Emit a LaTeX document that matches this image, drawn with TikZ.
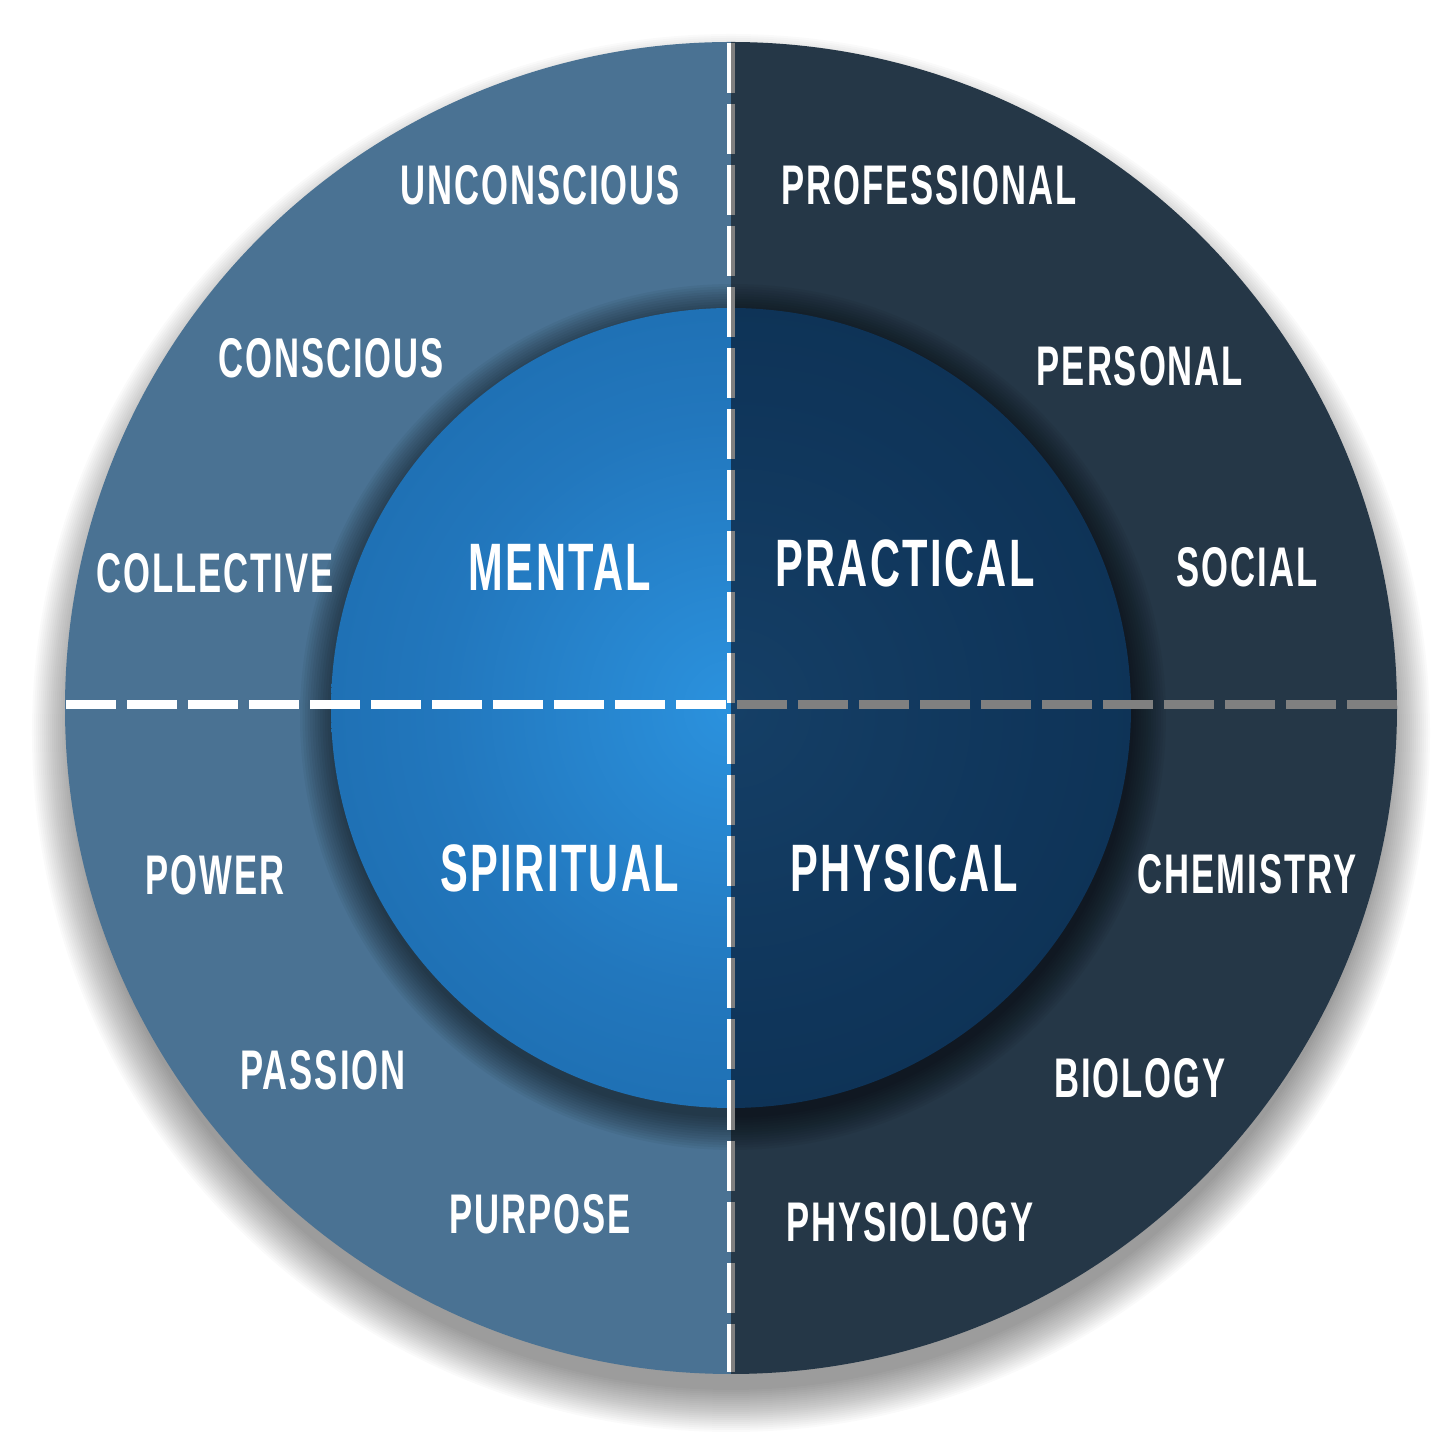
\documentclass[tikz,border=0pt]{standalone}
\usepackage{fontspec}
\newfontfamily\ringfont{Liberation Sans}[FakeStretch=0.62,LetterSpace=3.5]
\definecolor{mentalring}{HTML}{4A7293}
\definecolor{practicalring}{HTML}{253747}
\definecolor{mentalhi}{HTML}{2B92DE}
\definecolor{mentalmid}{HTML}{2277BD}
\definecolor{mentallo}{HTML}{155B96}
\definecolor{practicalhi}{HTML}{153F66}
\definecolor{practicalmid}{HTML}{0F355A}
\definecolor{practicallo}{HTML}{0A2B48}
\definecolor{dashgray}{HTML}{808080}
\pgfdeclareradialshading{mentalglow}{\pgfpoint{0bp}{0bp}}{color(0bp)=(mentalhi); color(18bp)=(mentalmid); color(50bp)=(mentallo)}
\pgfdeclareradialshading{practicalglow}{\pgfpoint{0bp}{0bp}}{color(0bp)=(practicalhi); color(20bp)=(practicalmid); color(50bp)=(practicallo)}
\begin{document}
\begin{tikzpicture}[scale=1.0,
  ringlabel/.style={text=white,font=\ringfont\bfseries\fontsize{15.9}{18}\selectfont,inner sep=0pt},
  corelabel/.style={text=white,font=\ringfont\bfseries\fontsize{19.1}{22}\selectfont,inner sep=0pt},
  whitedash/.style={white,dash pattern=on 0.50cm off 0.11cm},
  graydash/.style={dashgray,dash pattern=on 0.50cm off 0.11cm}]
\useasboundingbox (0,0) rectangle (14.51,14.40);
\fill[white] (0,0) rectangle (14.51,14.40);
\foreach \k in {1,...,22}
  \fill[black,opacity=0.02] (7.31,7.07) circle ({6.55+0.02*\k});
\fill[mentalring] (7.31,0.66) arc (-90:-270:6.66) -- cycle;
\fill[practicalring] (7.31,0.66) arc (-90:90:6.66) -- cycle;
\foreach \k in {1,...,14}
  \fill[black,opacity=0.045] (7.33,7.23) circle ({3.98+0.025*\k});
\begin{scope}
\clip (7.31,3.32) arc (-90:-270:4.00) -- cycle;
\shade[shading=mentalglow] (3.31,3.32) rectangle (11.31,11.32);
\end{scope}
\begin{scope}
\clip (7.31,3.32) arc (-90:90:4.00) -- cycle;
\shade[shading=practicalglow] (3.31,3.32) rectangle (11.31,11.32);
\end{scope}
\draw[whitedash,line width=0.09cm] (0.66,7.35) -- (7.27,7.35);
\draw[graydash,line width=0.09cm] (7.37,7.35) -- (13.97,7.35);
\draw[whitedash,line width=0.043cm] (7.292,13.97) -- (7.292,0.68);
\draw[graydash,line width=0.037cm] (7.332,13.97) -- (7.332,0.68);
\node[ringlabel] (unconscious) at (5.40,12.55) {UNCONSCIOUS};
\node[ringlabel] (conscious) at (3.31,10.82) {CONSCIOUS};
\node[ringlabel] (collective) at (2.15,8.67) {COLLECTIVE};
\node[ringlabel] (professional) at (9.29,12.55) {PROFESSIONAL};
\node[ringlabel] (personal) at (11.40,10.74) {PERSONAL};
\node[ringlabel] (social) at (12.47,8.73) {SOCIAL};
\node[ringlabel] (power) at (2.15,5.65) {POWER};
\node[ringlabel] (passion) at (3.23,3.70) {PASSION};
\node[ringlabel] (purpose) at (5.40,2.26) {PURPOSE};
\node[ringlabel] (chemistry) at (12.47,5.66) {CHEMISTRY};
\node[ringlabel] (biology) at (11.40,3.62) {BIOLOGY};
\node[ringlabel] (physiology) at (9.10,2.18) {PHYSIOLOGY};
\node[corelabel] (mental) at (5.60,8.73) {MENTAL};
\node[corelabel] (practical) at (9.05,8.77) {PRACTICAL};
\node[corelabel] (spiritual) at (5.60,5.72) {SPIRITUAL};
\node[corelabel] (physical) at (9.04,5.72) {PHYSICAL};
\end{tikzpicture}
\end{document}
